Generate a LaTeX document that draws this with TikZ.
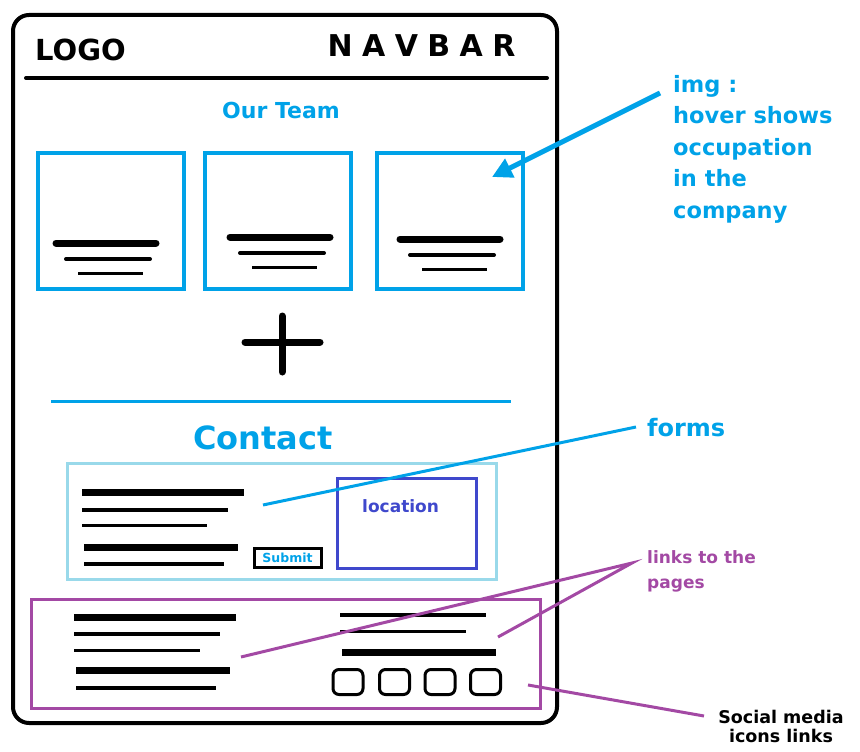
\documentclass[tikz,border=0pt]{standalone}
\usepackage{fontspec}
\setmainfont{DejaVu Sans}
\usetikzlibrary{arrows.meta}
\definecolor{paintblue}{RGB}{0,162,232}
\definecolor{paintlight}{RGB}{153,217,234}
\definecolor{paintindigo}{RGB}{63,72,204}
\definecolor{paintpurple}{RGB}{163,73,164}
\tikzset{
  >=latex,
}
\tikzstyle{frame}=[line width=4pt,rounded corners=16pt]
\tikzstyle{teambox}=[draw=paintblue,line width=4pt,minimum width=146pt,minimum height=136pt]
\tikzstyle{iconbox}=[draw,line width=3pt,rounded corners=6pt,minimum width=30pt,minimum height=25pt]
\tikzstyle{bar}=[line width=7pt]
\tikzstyle{midbar}=[line width=4pt]
\tikzstyle{thinbar}=[line width=3pt]
\tikzstyle{pointer}=[line width=3pt]
\tikzstyle{every node}=[inner sep=0pt,font=\bfseries]
\newcommand{\fsz}[2]{\fontsize{#1}{#2}\selectfont}

\begin{document}
\begin{tikzpicture}[x=1pt,y=-1pt]
    \useasboundingbox (0,0) rectangle (860,752);
    % page frame and header
    \draw[frame] (13,15) rectangle (557,723);
    \draw[line width=4pt,line cap=round] (26,78)--(547,78);
    \node[anchor=base west,font=\bfseries\fsz{29}{34}] (logo) at (35,61) {LOGO};
    \node[anchor=base west,font=\bfseries\fsz{30}{36}] (navbar) at (327.5,57)
      {N\hspace{9.4pt}A\hspace{9.4pt}V\hspace{9.4pt}B\hspace{9.4pt}A\hspace{9.4pt}R};

    % team section
    \node[anchor=base,text=paintblue,font=\bfseries\fsz{22}{26}] (ourteam) at (281,118) {Our Team};
    \foreach \cx/\lx/\ly [count=\i] in {111/106/243,278/280/237,450/450/239}{
      \node[teambox] (team\i) at (\cx,221) {};
      \draw[bar,line cap=round] ({\lx-50},\ly)--({\lx+50},\ly);
      \draw[midbar,line cap=round] ({\lx-40},\ly+16)--({\lx+44},\ly+16);
      \draw[thinbar] ({\lx-28},\ly+30)--({\lx+37},\ly+30);
    }
    \draw[line width=7pt,line cap=round] (245,342)--(320,342) (282,316)--(282,372);
    \draw[paintblue,line width=3pt] (51,401)--(511,401);

    % contact section
    \node[anchor=base,text=paintblue,font=\bfseries\fsz{32}{38}] (contact) at (263,449) {Contact};
    \draw[paintlight,line width=3pt] (67.5,463.5) rectangle (496.5,579.5);
    \draw[bar] (82,492)--(244,492);
    \draw[midbar] (82,510)--(228,510);
    \draw[thinbar] (82,525)--(207,525);
    \draw[bar] (84,547)--(238,547);
    \draw[midbar] (84,564)--(224,564);
    \node[draw,line width=3pt,minimum width=67pt,minimum height=19pt,
      text=paintblue,font=\bfseries\fsz{12.5}{15}] (submit) at (287.5,557.5) {Submit};
    \draw[paintindigo,line width=3pt] (337.5,478.5) rectangle (476.5,568);
    \node[anchor=base west,text=paintindigo,font=\bfseries\fsz{17}{20}] (location) at (362,512) {location};

    % footer
    \draw[paintpurple,line width=3pt] (31.5,599.5) rectangle (540,708);
    \draw[bar] (74,617)--(236,617);
    \draw[midbar] (74,634)--(220,634);
    \draw[thinbar] (74,650)--(200,650);
    \draw[bar] (76,670)--(230,670);
    \draw[midbar] (76,688)--(216,688);
    \draw[midbar] (340,615)--(486,615);
    \draw[thinbar] (340,631)--(466,631);
    \draw[bar] (342,652)--(496,652);
    \foreach \ix [count=\i] in {348,394.5,440,485.5}
      \node[iconbox] (icon\i) at (\ix,682) {};

    % notes
    \node[anchor=north west,align=left,text=paintblue,font=\bfseries\fsz{22.5}{31.5}] (imgnote) at (673,75)
      {img :\\hover shows\\occupation\\in the\\company};
    \node[anchor=base west,text=paintblue,font=\bfseries\fsz{24}{28}] (formsnote) at (647,436) {forms};
    \node[anchor=north west,align=left,text=paintpurple,font=\bfseries\fsz{17}{25}] (linksnote) at (647,550)
      {links to the\\pages};
    \node[anchor=north,align=center,font=\bfseries\fsz{17.5}{19}] (socialnote) at (781,710)
      {Social media\\icons links};

    \coordinate (imgtail) at (660,93);
    \coordinate (imgtip) at (492,177);
    \coordinate (formstail) at (636,427);
    \coordinate (formstip) at (263,505);
    \coordinate (linkstail) at (632,563);
    \coordinate (linksleft) at (241,657);
    \coordinate (linksright) at (498,637);
    \coordinate (socialtail) at (704,716);
    \coordinate (socialtip) at (528,685);
    \draw[paintblue,line width=5pt,-{Triangle[length=20pt,width=20pt]}] (imgtail)--(imgtip);
    \draw[pointer,paintblue] (formstail)--(formstip);
    \draw[pointer,paintpurple] (linksleft)--(linkstail)--(linksright);
    \draw[pointer,paintpurple] (socialtail)--(socialtip);
  \end{tikzpicture}
\end{document}
